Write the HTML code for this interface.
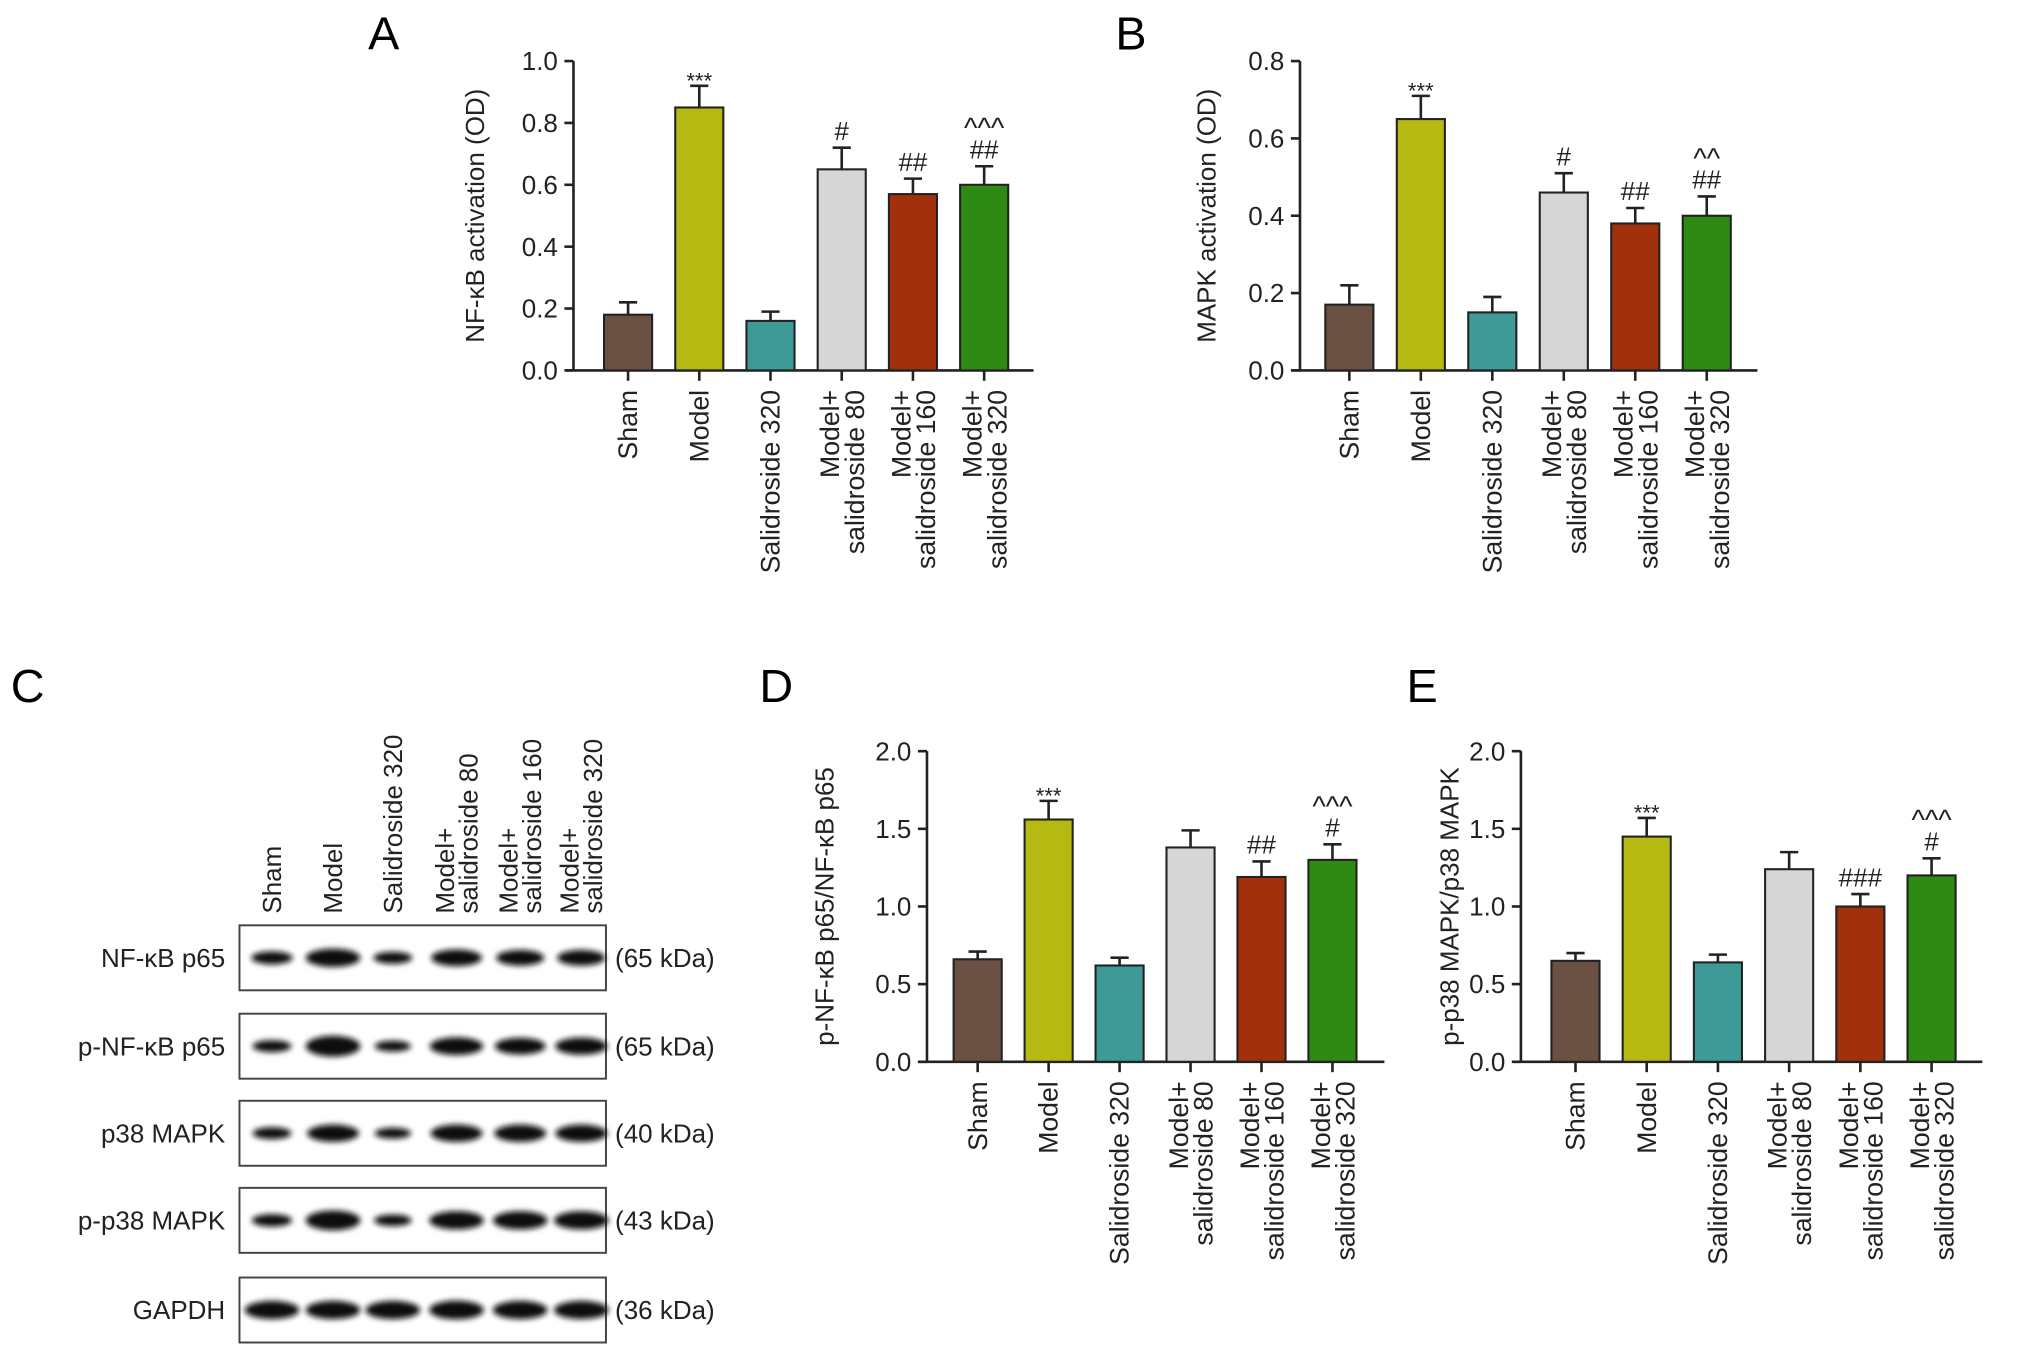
<!DOCTYPE html>
<html><head><meta charset="utf-8"><style>
html,body{margin:0;padding:0;background:#fff;}
svg{display:block;font-family:"Liberation Sans",Arial,sans-serif;}
</style></head><body>
<svg id="fig" width="2032" height="1349" viewBox="0 0 1563 1038" xmlns="http://www.w3.org/2000/svg">
<defs><filter id="blur" x="-30%" y="-80%" width="160%" height="260%"><feGaussianBlur stdDeviation="2.2"/></filter></defs>
<text x="283" y="38" font-size="36">A</text>
<text x="858" y="38" font-size="36">B</text>
<text x="8" y="540" font-size="36">C</text>
<text x="584" y="540" font-size="36">D</text>
<text x="1082" y="540" font-size="36">E</text>
</svg>
<script>
const categories = [["Sham"],["Model"],["Salidroside 320"],["Model+","salidroside 80"],["Model+","salidroside 160"],["Model+","salidroside 320"]];
const colors = ["#6b5044","#b6b912","#3e9a96","#d6d6d6","#a3300c","#2e8a12"];
const valuesA = [0.18,0.85,0.16,0.65,0.57,0.60];
const errorsA = [0.04,0.07,0.03,0.07,0.05,0.06];
const marksA = [[],["***"],[],["#"],["##"],["##","^^^"]];
const ticksA = [0,0.2,0.4,0.6,0.8,1.0];
const valuesB = [0.17,0.65,0.15,0.46,0.38,0.40];
const errorsB = [0.05,0.06,0.04,0.05,0.04,0.05];
const marksB = [[],["***"],[],["#"],["##"],["##","^^"]];
const ticksB = [0,0.2,0.4,0.6,0.8];
const valuesD = [0.66,1.56,0.62,1.38,1.19,1.30];
const errorsD = [0.05,0.12,0.05,0.11,0.10,0.10];
const marksD = [[],["***"],[],[],["##"],["#","^^^"]];
const ticksD = [0,0.5,1.0,1.5,2.0];
const valuesE = [0.65,1.45,0.64,1.24,1.00,1.20];
const errorsE = [0.05,0.12,0.05,0.11,0.08,0.11];
const marksE = [[],["***"],[],[],["###"],["#","^^^"]];
const ticksE = [0,0.5,1.0,1.5,2.0];
const blotRows = ["NF-κB p65","p-NF-κB p65","p38 MAPK","p-p38 MAPK","GAPDH"];
const blotKda = ["(65 kDa)","(65 kDa)","(40 kDa)","(43 kDa)","(36 kDa)"];
const blotIntensity = [[0.5,1.0,0.4,0.85,0.75,0.75],[0.4,1.25,0.3,0.95,0.85,0.9],[0.4,0.9,0.3,0.9,0.9,0.9],[0.45,1.15,0.35,1.0,1.0,1.0],[1.0,1.0,1.0,1.05,1.0,1.0]];

const NS="http://www.w3.org/2000/svg";
const svg=document.getElementById('fig');
function mk(tag,attrs,parent){const e=document.createElementNS(NS,tag);for(const k in attrs)e.setAttribute(k,attrs[k]);(parent||svg).appendChild(e);return e;}

function chart(id,cfg,values,errors,marks,ticks){
  const g=mk('g',{});
  
  
  const max=ticks[ticks.length-1];
  const y=v=>cfg.y0-(v/max)*(cfg.y0-cfg.yTop);
  const xc=i=>cfg.x0+cfg.first+i*cfg.step;
  const ya=mk('line',{x1:cfg.x0,y1:cfg.yTop,x2:cfg.x0,y2:cfg.y0,stroke:'#222','stroke-width':2},g);
  
  
  const xa=mk('line',{x1:cfg.x0-6,y1:cfg.y0,x2:cfg.xEnd,y2:cfg.y0,stroke:'#222','stroke-width':2},g);
  
  
  ticks.forEach(t=>{
    mk('line',{x1:cfg.x0-7,y1:y(t),x2:cfg.x0,y2:y(t),stroke:'#222','stroke-width':2},g);
    const tl=mk('text',{x:cfg.x0-12,y:y(t)+7,'font-size':20,'text-anchor':'end',fill:'#222'},g);
    tl.textContent=t.toFixed(1);
    
    
  });
  const tt=mk('text',{transform:`translate(${cfg.titleX},${(cfg.y0+cfg.yTop)/2}) rotate(-90)`,'font-size':20,'text-anchor':'middle',fill:'#222'},g);
  tt.textContent=cfg.title;
  
  
  values.forEach((v,i)=>{
    const c=xc(i),w=37;
    const top=y(v+errors[i]);
    mk('line',{x1:c,y1:y(v),x2:c,y2:top,stroke:'#222','stroke-width':2},g);
    mk('line',{x1:c-7,y1:top,x2:c+7,y2:top,stroke:'#222','stroke-width':2},g);
    const b=mk('rect',{x:c-w/2,y:y(v),width:w,height:cfg.y0-y(v),fill:colors[i],stroke:'#222','stroke-width':1.6},g);
    
    
    mk('line',{x1:c,y1:cfg.y0,x2:c,y2:cfg.y0+8,stroke:'#222','stroke-width':2},g);
    marks[i].forEach((m,k)=>{
      const isStar=m.indexOf('*')>=0;
      const isCaret=m.indexOf('^')>=0;
      const a=mk('text',{x:c,y:top-6-k*24+(isStar?8:0)+(isCaret?8:0),'font-size':isStar?17:(isCaret?22:20),'text-anchor':'middle',fill:'#222'},g);
      a.textContent=m;
      
      
    });
    const lines=categories[i];
    lines.forEach((ln,k)=>{
      const bx=lines.length===1?c+7:(k===0?c-2:c+17);
      const t=mk('text',{transform:`translate(${bx},${cfg.y0+15}) rotate(-90)`,'font-size':20.5,'text-anchor':'end',fill:'#222'},g);
      t.textContent=ln;
      
      
    });
  });
}
chart('panel-a',{x0:441,xEnd:795,y0:285,yTop:47,first:42,step:54.8,titleX:372,title:'NF-κB activation (OD)'},valuesA,errorsA,marksA,ticksA);
chart('panel-b',{x0:1000,xEnd:1352,y0:285,yTop:47,first:38,step:55,titleX:935,title:'MAPK activation (OD)'},valuesB,errorsB,marksB,ticksB);
chart('panel-d',{x0:713,xEnd:1065,y0:817,yTop:578,first:39,step:54.6,titleX:641,title:'p-NF-κB p65/NF-κB p65'},valuesD,errorsD,marksD,ticksD);
chart('panel-e',{x0:1170,xEnd:1525,y0:817,yTop:578,first:42,step:54.8,titleX:1122,title:'p-p38 MAPK/p38 MAPK'},valuesE,errorsE,marksE,ticksE);

const wb=mk('g',{});


const lanes=[209,256,302,351,400,447];
const rowTops=[712,780,847,914,983];
categories.forEach((lab,i)=>{
  lab.forEach((ln,k)=>{
    const bx=lab.length===1?lanes[i]+7:(k===0?lanes[i]-2:lanes[i]+16);
    const t=mk('text',{transform:`translate(${bx},703) rotate(-90)`,'font-size':20,'text-anchor':'start',fill:'#222'},wb);
    t.textContent=ln;
    
    
  });
});
rowTops.forEach((ty,r)=>{
  const box=mk('rect',{x:184,y:ty,width:282,height:50,fill:'#fff',stroke:'#444','stroke-width':1.5},wb);
  
  
  lanes.forEach((lx,i)=>{
    const s=blotIntensity[r][i];
    const e=mk('ellipse',{cx:lx,cy:ty+25,rx:Math.min(21,11+10*s),ry:3+4*s,fill:'#111',filter:'url(#blur)'},wb);
    
    
  });
  const l=mk('text',{x:173,y:ty+32,'font-size':20,'text-anchor':'end',fill:'#222'},wb);
  l.textContent=blotRows[r];
  
  
  const kd=mk('text',{x:473,y:ty+32,'font-size':20,fill:'#222'},wb);
  kd.textContent=blotKda[r];
  
  
});
</script>
</body></html>
